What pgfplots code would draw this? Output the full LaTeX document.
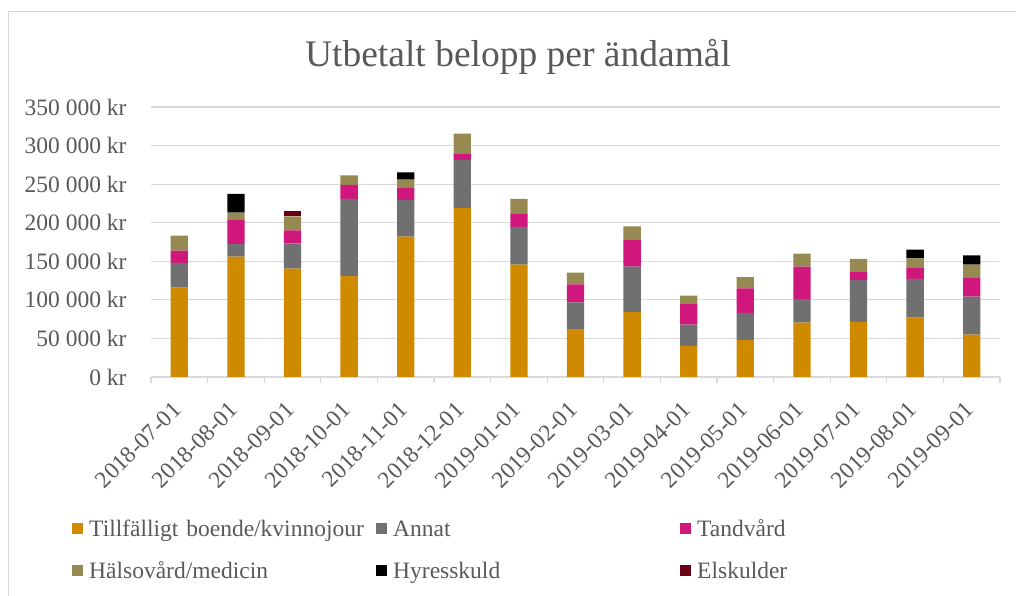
\documentclass[border=0pt]{standalone}
\usepackage{pgfplots}
\pgfplotsset{compat=1.18}
\usepackage{pgfplotstable}
\usepackage{fontspec}
\setmainfont{Liberation Serif}
\definecolor{cT}{RGB}{208,138,0}
\definecolor{cA}{RGB}{112,112,112}
\definecolor{cD}{RGB}{208,23,124}
\definecolor{cH}{RGB}{150,138,82}
\definecolor{cHy}{RGB}{0,0,0}
\definecolor{cE}{RGB}{106,0,22}
\definecolor{txt}{RGB}{89,89,89}
\definecolor{grd}{RGB}{217,217,217}
\pgfplotstableread{
idx T A D H Hy E
0 115800 32000 16000 19400 0 0
1 156000 16400 32000 8600 24300 0
2 140400 32900 16800 18200 0 7300
3 130900 99900 18100 12600 0 0
4 181900 47600 16400 9900 9500 0
5 219100 62200 8700 25500 0 0
6 145600 48900 17700 18600 0 0
7 62200 34600 23300 15200 0 0
8 84300 58700 35500 16800 0 0
9 40200 27600 27700 9900 0 0
10 48000 35000 32000 14600 0 0
11 70400 30700 41900 16900 0 0
12 71300 54500 11200 16000 0 0
13 76900 50200 15100 11600 11300 0
14 54900 49200 25100 16400 12100 0
}\data
\begin{document}
\begin{tikzpicture}[x=1pt,y=1pt]
\useasboundingbox (0,0) rectangle (1016,596);
\draw[grd, line width=1pt] (8.3,0) -- (8.3,584.3) -- (1016,584.3);
\node[anchor=base, text=txt, font=\fontsize{37.5}{45}\selectfont, inner sep=0pt] at (518,529.3) {Utbetalt belopp per ändamål};
\begin{axis}[
  at={(151pt,219pt)}, anchor=south west,
  scale only axis, width=849pt, height=270pt,
  ybar stacked, bar width=17.3pt,
  xmin=-0.5, xmax=14.5, ymin=0, ymax=350000,
  enlargelimits=false, clip=false,
  axis x line*=bottom, axis y line*=left,
  y axis line style={draw=none},
  x axis line style={grd, line width=1.2pt},
  ymajorgrids, grid style={grd, line width=1.2pt},
  ytick={0,50000,...,350000},
  yticklabels={0 kr,50 000 kr,100 000 kr,150 000 kr,200 000 kr,250 000 kr,300 000 kr,350 000 kr},
  scaled y ticks=false,
  major y tick style={draw=none},
  xtick={0,...,14},
  xticklabels={2018-07-01,2018-08-01,2018-09-01,2018-10-01,2018-11-01,2018-12-01,2019-01-01,2019-02-01,2019-03-01,2019-04-01,2019-05-01,2019-06-01,2019-07-01,2019-08-01,2019-09-01},
  major x tick style={draw=none},
  minor xtick={-0.5,0.5,...,14.5},
  minor tick length=6pt, tick align=outside,
  minor x tick style={grd, line width=1.2pt},
  tick label style={text=txt, font=\fontsize{23.5}{28}\selectfont},
  yticklabel style={anchor=east, inner sep=0pt, xshift=-20pt},
  xticklabel style={inner sep=0pt, xshift=-8pt, yshift=-19pt, rotate=45, anchor=north east},
  legend columns=3,
  legend style={draw=none, fill=none, inner sep=0pt, at={(-0.0930,-0.5296)}, anchor=north west,
    font=\fontsize{23.5}{28}\selectfont, text=txt,
    nodes={inner sep=0pt, text height=16pt, text depth=5pt, text width=287pt, align=left},
    /tikz/every odd column/.append style={column sep=6pt},
    /tikz/every even column/.append style={column sep=0pt},
    /tikz/row sep=21pt},
  legend image code/.code={\fill[#1] (0pt,-3pt) rectangle (11pt,8pt);},
]
\addplot[fill=cT, draw=none] table[x=idx, y=T] {\data};
\addplot[fill=cA, draw=none] table[x=idx, y=A] {\data};
\addplot[fill=cD, draw=none] table[x=idx, y=D] {\data};
\addplot[fill=cH, draw=none] table[x=idx, y=H] {\data};
\addplot[fill=cHy, draw=none] table[x=idx, y=Hy] {\data};
\addplot[fill=cE, draw=none] table[x=idx, y=E] {\data};
\legend{Tillfälligt boende/kvinnojour, Annat, Tandvård, Hälsovård/medicin, Hyresskuld, Elskulder}
\end{axis}
\end{tikzpicture}
\end{document}
